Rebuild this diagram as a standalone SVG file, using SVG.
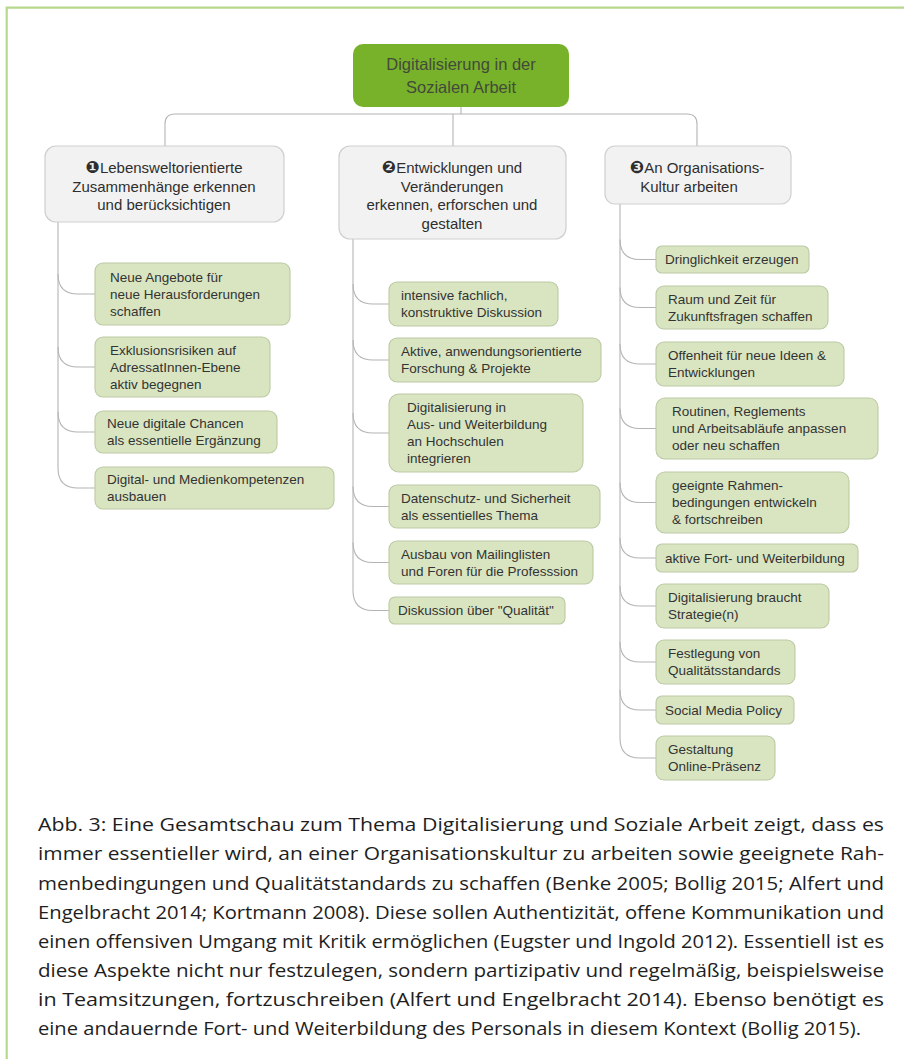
<svg xmlns="http://www.w3.org/2000/svg" width="904" height="1059" viewBox="0 0 904 1059">
<style>
.frame{fill:none;stroke:#b6d98c;stroke-width:2.2}
.conn path{fill:none;stroke:#b4b4b4;stroke-width:1.1}
.root{fill:#77b22a}
.roott{font-family:"Liberation Sans","DejaVu Sans",sans-serif;font-size:16.5px;fill:#434a3a;text-anchor:middle}
.cat{fill:#f2f2f2;stroke:#cfcfcf;stroke-width:1.2}
.catt{font-family:"Liberation Sans","DejaVu Sans",sans-serif;font-size:15px;fill:#2e2e2e;text-anchor:middle}
.num{font-family:"DejaVu Sans",sans-serif;font-size:17px;font-weight:bold}
.leaf{fill:#d9e5c1;stroke:#bccaa4;stroke-width:1.1}
.leaft{font-family:"Liberation Sans",Arial,sans-serif;font-size:13.5px;fill:#333}
.cap{font-family:"Open Sans","Noto Sans",sans-serif;font-size:18.8px;fill:#1e1e1e}
</style>
<rect width="904" height="1059" fill="#fff"/>
<path class="frame" d="M6.7,1059 V7.7 H904"/>

<g class="conn" id="connectors">
<path d="M461,107 V114 M175,114 H687 M165,146 V124 Q165,114 175,114 M687,114 Q697,114 697,124 V146 M453,114 V146"/>
<path d="M58,222 V468"/>
<path d="M58,274 Q58,294 78,294 H95"/>
<path d="M58,347 Q58,367 78,367 H95"/>
<path d="M58,412 Q58,432 78,432 H95"/>
<path d="M58,468 Q58,488 78,488 H95"/>
<path d="M353,239 V590.5"/>
<path d="M353,284 Q353,304 373,304 H389"/>
<path d="M353,340 Q353,360 373,360 H389"/>
<path d="M353,413 Q353,433 373,433 H389"/>
<path d="M353,486.5 Q353,506.5 373,506.5 H389"/>
<path d="M353,542.5 Q353,562.5 373,562.5 H389"/>
<path d="M353,590.5 Q353,610.5 373,610.5 H389"/>
<path d="M620,204 V738"/>
<path d="M620,239.5 Q620,259.5 640,259.5 H656"/>
<path d="M620,287.5 Q620,307.5 640,307.5 H656"/>
<path d="M620,344 Q620,364 640,364 H656"/>
<path d="M620,408.5 Q620,428.5 640,428.5 H656"/>
<path d="M620,482.5 Q620,502.5 640,502.5 H656"/>
<path d="M620,538 Q620,558 640,558 H656"/>
<path d="M620,586 Q620,606 640,606 H656"/>
<path d="M620,642 Q620,662 640,662 H656"/>
<path d="M620,690 Q620,710 640,710 H656"/>
<path d="M620,738 Q620,758 640,758 H656"/>
</g>

<g id="root">
<rect class="root" x="353" y="44" width="216" height="63" rx="10"/>
<text class="roott" x="461" y="70">Digitalisierung in der</text>
<text class="roott" x="461" y="93">Sozialen Arbeit</text>
</g>

<g id="cat1">
<rect class="cat" x="45" y="146" width="239" height="76" rx="11"/>
<text class="catt" x="164" y="173"><tspan class="num">❶</tspan>Lebensweltorientierte</text>
<text class="catt" x="164" y="191.5">Zusammenhänge erkennen</text>
<text class="catt" x="164" y="210">und berücksichtigen</text>
</g>
<g id="cat2">
<rect class="cat" x="339" y="146" width="227" height="93" rx="11"/>
<text class="catt" x="452" y="173"><tspan class="num">❷</tspan>Entwicklungen und</text>
<text class="catt" x="452" y="191.5">Veränderungen</text>
<text class="catt" x="452" y="210">erkennen, erforschen und</text>
<text class="catt" x="452" y="228.5">gestalten</text>
</g>
<g id="cat3">
<rect class="cat" x="605" y="146" width="186" height="58" rx="10"/>
<text class="catt" x="697" y="173"><tspan class="num">❸</tspan>An Organisations-</text>
<text class="catt" x="689" y="191.5">Kultur arbeiten</text>
</g>

<g id="l1"><rect class="leaf" x="95" y="263" width="195" height="62" rx="8"/>
<text class="leaft" x="110" y="281.5">Neue Angebote für</text><text class="leaft" x="110" y="298.5">neue Herausforderungen</text><text class="leaft" x="110" y="315.5">schaffen</text></g>
<g id="l2"><rect class="leaf" x="95" y="337" width="175" height="60" rx="8"/>
<text class="leaft" x="110" y="354.5">Exklusionsrisiken auf</text><text class="leaft" x="110" y="371.5">AdressatInnen-Ebene</text><text class="leaft" x="110" y="388.5">aktiv begegnen</text></g>
<g id="l3"><rect class="leaf" x="95" y="411" width="182" height="42" rx="8"/>
<text class="leaft" x="107" y="428">Neue digitale Chancen</text><text class="leaft" x="107" y="445">als essentielle Ergänzung</text></g>
<g id="l4"><rect class="leaf" x="95" y="467" width="239" height="42" rx="8"/>
<text class="leaft" x="107" y="484">Digital- und Medienkompetenzen</text><text class="leaft" x="107" y="501">ausbauen</text></g>

<g id="m1"><rect class="leaf" x="389" y="282" width="169" height="44" rx="8"/>
<text class="leaft" x="401" y="300">intensive fachlich,</text><text class="leaft" x="401" y="317">konstruktive Diskussion</text></g>
<g id="m2"><rect class="leaf" x="389" y="338" width="212" height="44" rx="8"/>
<text class="leaft" x="401" y="356">Aktive, anwendungsorientierte</text><text class="leaft" x="401" y="373">Forschung &amp; Projekte</text></g>
<g id="m3"><rect class="leaf" x="389" y="394" width="194" height="78" rx="10"/>
<text class="leaft" x="407" y="412">Digitalisierung in</text><text class="leaft" x="407" y="429">Aus- und Weiterbildung</text><text class="leaft" x="407" y="446">an Hochschulen</text><text class="leaft" x="407" y="463">integrieren</text></g>
<g id="m4"><rect class="leaf" x="389" y="485" width="211" height="43" rx="8"/>
<text class="leaft" x="401" y="502.5">Datenschutz- und Sicherheit</text><text class="leaft" x="401" y="519.5">als essentielles Thema</text></g>
<g id="m5"><rect class="leaf" x="389" y="541" width="204" height="43" rx="8"/>
<text class="leaft" x="401" y="558.5">Ausbau von Mailinglisten</text><text class="leaft" x="401" y="575.5">und Foren für die Professsion</text></g>
<g id="m6"><rect class="leaf" x="389" y="597" width="176" height="27" rx="6"/>
<text class="leaft" x="398" y="615">Diskussion über "Qualität"</text></g>

<g id="r1"><rect class="leaf" x="656" y="246" width="153" height="27" rx="6"/>
<text class="leaft" x="665" y="264">Dringlichkeit erzeugen</text></g>
<g id="r2"><rect class="leaf" x="656" y="286" width="172" height="43" rx="8"/>
<text class="leaft" x="668" y="303.5">Raum und Zeit für</text><text class="leaft" x="668" y="320.5">Zukunftsfragen schaffen</text></g>
<g id="r3"><rect class="leaf" x="656" y="342" width="188" height="44" rx="8"/>
<text class="leaft" x="668" y="360">Offenheit für neue Ideen &amp;</text><text class="leaft" x="668" y="377">Entwicklungen</text></g>
<g id="r4"><rect class="leaf" x="656" y="398" width="222" height="61" rx="9"/>
<text class="leaft" x="672" y="416">Routinen, Reglements</text><text class="leaft" x="672" y="433">und Arbeitsabläufe anpassen</text><text class="leaft" x="672" y="450">oder neu schaffen</text></g>
<g id="r5"><rect class="leaf" x="656" y="472" width="193" height="61" rx="9"/>
<text class="leaft" x="672" y="490">geeignte Rahmen-</text><text class="leaft" x="672" y="507">bedingungen entwickeln</text><text class="leaft" x="672" y="524">&amp; fortschreiben</text></g>
<g id="r6"><rect class="leaf" x="656" y="544" width="202" height="28" rx="6"/>
<text class="leaft" x="665" y="562.5">aktive Fort- und Weiterbildung</text></g>
<g id="r7"><rect class="leaf" x="656" y="584" width="173" height="44" rx="8"/>
<text class="leaft" x="668" y="602">Digitalisierung braucht</text><text class="leaft" x="668" y="619">Strategie(n)</text></g>
<g id="r8"><rect class="leaf" x="656" y="640" width="139" height="44" rx="8"/>
<text class="leaft" x="668" y="658">Festlegung von</text><text class="leaft" x="668" y="675">Qualitätsstandards</text></g>
<g id="r9"><rect class="leaf" x="656" y="696" width="138" height="28" rx="6"/>
<text class="leaft" x="665" y="714.5">Social Media Policy</text></g>
<g id="r10"><rect class="leaf" x="656" y="736" width="119" height="44" rx="8"/>
<text class="leaft" x="668" y="754">Gestaltung</text><text class="leaft" x="668" y="771">Online-Präsenz</text></g>

<g id="caption">
<text class="cap" x="38" y="831" textLength="846" lengthAdjust="spacingAndGlyphs">Abb. 3: Eine Gesamtschau zum Thema Digitalisierung und Soziale Arbeit zeigt, dass es</text>
<text class="cap" x="38" y="860" textLength="846" lengthAdjust="spacingAndGlyphs">immer essentieller wird, an einer Organisationskultur zu arbeiten sowie geeignete Rah-</text>
<text class="cap" x="38" y="889.5" textLength="846" lengthAdjust="spacingAndGlyphs">menbedingungen und Qualitätstandards zu schaffen (Benke 2005; Bollig 2015; Alfert und</text>
<text class="cap" x="38" y="918.5" textLength="846" lengthAdjust="spacingAndGlyphs">Engelbracht 2014; Kortmann 2008). Diese sollen Authentizität, offene Kommunikation und</text>
<text class="cap" x="38" y="947.5" textLength="846" lengthAdjust="spacingAndGlyphs">einen offensiven Umgang mit Kritik ermöglichen (Eugster und Ingold 2012). Essentiell ist es</text>
<text class="cap" x="38" y="977" textLength="846" lengthAdjust="spacingAndGlyphs">diese Aspekte nicht nur festzulegen, sondern partizipativ und regelmäßig, beispielsweise</text>
<text class="cap" x="38" y="1006" textLength="846" lengthAdjust="spacingAndGlyphs">in Teamsitzungen, fortzuschreiben (Alfert und Engelbracht 2014). Ebenso benötigt es</text>
<text class="cap" x="38" y="1035" textLength="823" lengthAdjust="spacingAndGlyphs">eine andauernde Fort- und Weiterbildung des Personals in diesem Kontext (Bollig 2015).</text>
</g>
</svg>
